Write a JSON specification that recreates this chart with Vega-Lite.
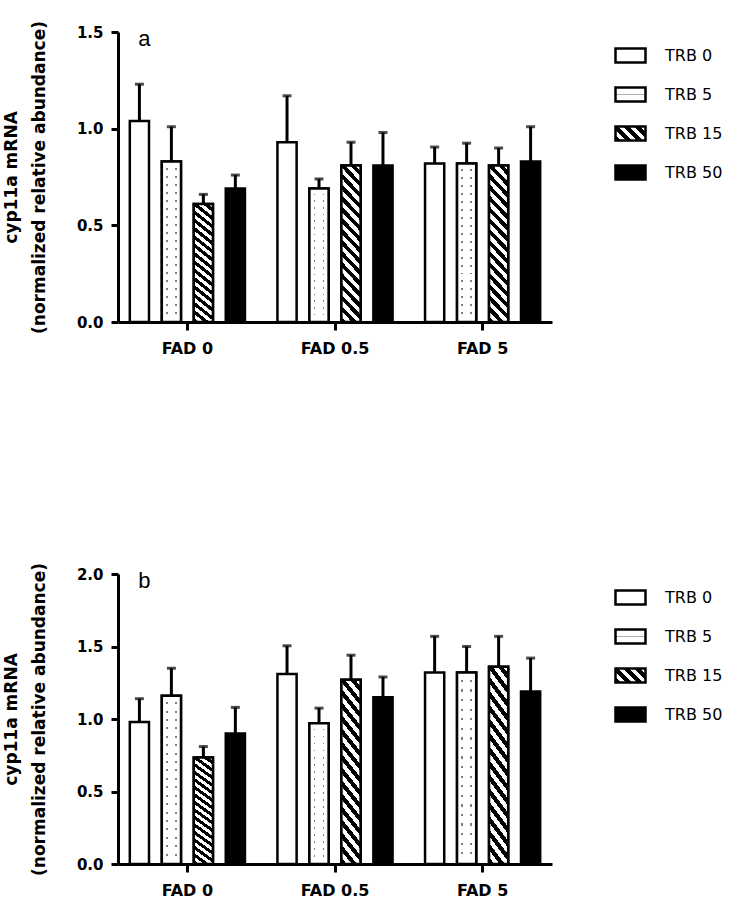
{
  "$schema": "https://vega.github.io/schema/vega-lite/v6.json",
  "background": "white",
  "padding": {"top": 20, "left": 2, "right": 0, "bottom": 0},
  "datasets": {
    "a": [
      {"FAD": "FAD 0", "TRB": "TRB 0", "mean": 1.04, "upper": 1.23},
      {"FAD": "FAD 0", "TRB": "TRB 5", "mean": 0.83, "upper": 1.01},
      {"FAD": "FAD 0", "TRB": "TRB 15", "mean": 0.61, "upper": 0.66},
      {"FAD": "FAD 0", "TRB": "TRB 50", "mean": 0.69, "upper": 0.76},
      {"FAD": "FAD 0.5", "TRB": "TRB 0", "mean": 0.93, "upper": 1.17},
      {"FAD": "FAD 0.5", "TRB": "TRB 5", "mean": 0.69, "upper": 0.74},
      {"FAD": "FAD 0.5", "TRB": "TRB 15", "mean": 0.81, "upper": 0.93},
      {"FAD": "FAD 0.5", "TRB": "TRB 50", "mean": 0.81, "upper": 0.98},
      {"FAD": "FAD 5", "TRB": "TRB 0", "mean": 0.82, "upper": 0.905},
      {"FAD": "FAD 5", "TRB": "TRB 5", "mean": 0.82, "upper": 0.925},
      {"FAD": "FAD 5", "TRB": "TRB 15", "mean": 0.81, "upper": 0.9},
      {"FAD": "FAD 5", "TRB": "TRB 50", "mean": 0.83, "upper": 1.01}
    ],
    "b": [
      {"FAD": "FAD 0", "TRB": "TRB 0", "mean": 0.98, "upper": 1.14},
      {"FAD": "FAD 0", "TRB": "TRB 5", "mean": 1.16, "upper": 1.35},
      {"FAD": "FAD 0", "TRB": "TRB 15", "mean": 0.735, "upper": 0.81},
      {"FAD": "FAD 0", "TRB": "TRB 50", "mean": 0.9, "upper": 1.08},
      {"FAD": "FAD 0.5", "TRB": "TRB 0", "mean": 1.31, "upper": 1.505},
      {"FAD": "FAD 0.5", "TRB": "TRB 5", "mean": 0.97, "upper": 1.075},
      {"FAD": "FAD 0.5", "TRB": "TRB 15", "mean": 1.27, "upper": 1.44},
      {"FAD": "FAD 0.5", "TRB": "TRB 50", "mean": 1.15, "upper": 1.29},
      {"FAD": "FAD 5", "TRB": "TRB 0", "mean": 1.32, "upper": 1.57},
      {"FAD": "FAD 5", "TRB": "TRB 5", "mean": 1.32, "upper": 1.5},
      {"FAD": "FAD 5", "TRB": "TRB 15", "mean": 1.36, "upper": 1.57},
      {"FAD": "FAD 5", "TRB": "TRB 50", "mean": 1.19, "upper": 1.42}
    ]
  },
  "spacing": 206,
  "resolve": {"scale": {"fill": "independent", "y": "independent"}},
  "vconcat": [
    {
      "width": 434,
      "height": 290,
      "data": {"name": "a"},
      "encoding": {
        "x": {"field": "FAD", "type": "nominal", "scale": {"domain": ["FAD 0", "FAD 0.5", "FAD 5"], "paddingInner": 0.22, "paddingOuter": 0.08}, "axis": {"title": null, "labelAngle": 0, "tickSize": 8, "labelPadding": 10}},
        "xOffset": {"field": "TRB", "type": "nominal", "scale": {"domain": ["TRB 0", "TRB 5", "TRB 15", "TRB 50"], "paddingInner": 0.4, "paddingOuter": 0}}
      },
      "layer": [
        {
          "mark": {"type": "bar", "stroke": "black", "strokeWidth": 2.5},
          "encoding": {
            "y": {"field": "mean", "type": "quantitative", "scale": {"domain": [0, 1.5], "nice": false}, "axis": {"values": [0, 0.5, 1, 1.5], "format": ".1f", "title": ["cyp11a mRNA", "(normalized relative abundance)"], "titleLineHeight": 28, "titlePadding": 28, "tickSize": 7, "labelPadding": 8}},
            "fill": {"field": "TRB", "type": "nominal",
              "scale": {"domain": ["TRB 0", "TRB 5", "TRB 15", "TRB 50"], "range": [
                "white",
                {"expr": "{gradient: 'linear', x1: 0, y1: 0, x2: 0, y2: 1, stops: [{offset: 0, color: 'white'}, {offset: 0.44, color: 'white'}, {offset: 0.44, color: '#b0b0b0'}, {offset: 0.54, color: '#b0b0b0'}, {offset: 0.54, color: 'white'}, {offset: 1, color: 'white'}]}"},
                {"expr": "{gradient: 'linear', x1: 0, y1: 1, x2: 1.2, y2: 0.44, stops: [{offset: 0, color: 'black'}, {offset: 0.125, color: 'black'}, {offset: 0.125, color: 'white'}, {offset: 0.25, color: 'white'}, {offset: 0.25, color: 'black'}, {offset: 0.375, color: 'black'}, {offset: 0.375, color: 'white'}, {offset: 0.5, color: 'white'}, {offset: 0.5, color: 'black'}, {offset: 0.625, color: 'black'}, {offset: 0.625, color: 'white'}, {offset: 0.75, color: 'white'}, {offset: 0.75, color: 'black'}, {offset: 0.875, color: 'black'}, {offset: 0.875, color: 'white'}, {offset: 1, color: 'white'}]}"},
                "black"
              ]},
              "legend": {"title": null, "orient": "right", "offset": 55, "padding": 7, "symbolStrokeColor": "black", "symbolStrokeWidth": 2.5}
            }
          }
        },
        {
          "transform": [{"filter": "datum.TRB === 'TRB 15'"}],
          "mark": {"type": "bar", "stroke": "black", "strokeWidth": 2.5, "fill": {"gradient": "linear", "x1": 0, "y1": 1, "x2": 0.144, "y2": -0.111, "stops": [
            {"offset": 0, "color": "black"}, {"offset": 0.03125, "color": "black"}, {"offset": 0.03125, "color": "white"}, {"offset": 0.0625, "color": "white"},
            {"offset": 0.0625, "color": "black"}, {"offset": 0.09375, "color": "black"}, {"offset": 0.09375, "color": "white"}, {"offset": 0.125, "color": "white"},
            {"offset": 0.125, "color": "black"}, {"offset": 0.15625, "color": "black"}, {"offset": 0.15625, "color": "white"}, {"offset": 0.1875, "color": "white"},
            {"offset": 0.1875, "color": "black"}, {"offset": 0.21875, "color": "black"}, {"offset": 0.21875, "color": "white"}, {"offset": 0.25, "color": "white"},
            {"offset": 0.25, "color": "black"}, {"offset": 0.28125, "color": "black"}, {"offset": 0.28125, "color": "white"}, {"offset": 0.3125, "color": "white"},
            {"offset": 0.3125, "color": "black"}, {"offset": 0.34375, "color": "black"}, {"offset": 0.34375, "color": "white"}, {"offset": 0.375, "color": "white"},
            {"offset": 0.375, "color": "black"}, {"offset": 0.40625, "color": "black"}, {"offset": 0.40625, "color": "white"}, {"offset": 0.4375, "color": "white"},
            {"offset": 0.4375, "color": "black"}, {"offset": 0.46875, "color": "black"}, {"offset": 0.46875, "color": "white"}, {"offset": 0.5, "color": "white"},
            {"offset": 0.5, "color": "black"}, {"offset": 0.53125, "color": "black"}, {"offset": 0.53125, "color": "white"}, {"offset": 0.5625, "color": "white"},
            {"offset": 0.5625, "color": "black"}, {"offset": 0.59375, "color": "black"}, {"offset": 0.59375, "color": "white"}, {"offset": 0.625, "color": "white"},
            {"offset": 0.625, "color": "black"}, {"offset": 0.65625, "color": "black"}, {"offset": 0.65625, "color": "white"}, {"offset": 0.6875, "color": "white"},
            {"offset": 0.6875, "color": "black"}, {"offset": 0.71875, "color": "black"}, {"offset": 0.71875, "color": "white"}, {"offset": 0.75, "color": "white"},
            {"offset": 0.75, "color": "black"}, {"offset": 0.78125, "color": "black"}, {"offset": 0.78125, "color": "white"}, {"offset": 0.8125, "color": "white"},
            {"offset": 0.8125, "color": "black"}, {"offset": 0.84375, "color": "black"}, {"offset": 0.84375, "color": "white"}, {"offset": 0.875, "color": "white"},
            {"offset": 0.875, "color": "black"}, {"offset": 0.90625, "color": "black"}, {"offset": 0.90625, "color": "white"}, {"offset": 0.9375, "color": "white"},
            {"offset": 0.9375, "color": "black"}, {"offset": 0.96875, "color": "black"}, {"offset": 0.96875, "color": "white"}, {"offset": 1, "color": "white"}
          ]}},
          "encoding": {"y": {"field": "mean", "type": "quantitative"}}
        },
        {
          "transform": [{"filter": "datum.TRB === 'TRB 5'"}],
          "mark": {"type": "bar", "strokeWidth": 0, "fill": {"gradient": "linear", "x1": 0, "y1": 0, "x2": 0, "y2": 1, "stops": [
            {"offset": 0, "color": "white"},
            {"offset": 0.038, "color": "white"}, {"offset": 0.038, "color": "#808080"}, {"offset": 0.05, "color": "#808080"}, {"offset": 0.05, "color": "white"},
            {"offset": 0.088, "color": "white"}, {"offset": 0.088, "color": "#808080"}, {"offset": 0.1, "color": "#808080"}, {"offset": 0.1, "color": "white"},
            {"offset": 0.138, "color": "white"}, {"offset": 0.138, "color": "#808080"}, {"offset": 0.15, "color": "#808080"}, {"offset": 0.15, "color": "white"},
            {"offset": 0.188, "color": "white"}, {"offset": 0.188, "color": "#808080"}, {"offset": 0.2, "color": "#808080"}, {"offset": 0.2, "color": "white"},
            {"offset": 0.238, "color": "white"}, {"offset": 0.238, "color": "#808080"}, {"offset": 0.25, "color": "#808080"}, {"offset": 0.25, "color": "white"},
            {"offset": 0.288, "color": "white"}, {"offset": 0.288, "color": "#808080"}, {"offset": 0.3, "color": "#808080"}, {"offset": 0.3, "color": "white"},
            {"offset": 0.338, "color": "white"}, {"offset": 0.338, "color": "#808080"}, {"offset": 0.35, "color": "#808080"}, {"offset": 0.35, "color": "white"},
            {"offset": 0.388, "color": "white"}, {"offset": 0.388, "color": "#808080"}, {"offset": 0.4, "color": "#808080"}, {"offset": 0.4, "color": "white"},
            {"offset": 0.438, "color": "white"}, {"offset": 0.438, "color": "#808080"}, {"offset": 0.45, "color": "#808080"}, {"offset": 0.45, "color": "white"},
            {"offset": 0.488, "color": "white"}, {"offset": 0.488, "color": "#808080"}, {"offset": 0.5, "color": "#808080"}, {"offset": 0.5, "color": "white"},
            {"offset": 0.538, "color": "white"}, {"offset": 0.538, "color": "#808080"}, {"offset": 0.55, "color": "#808080"}, {"offset": 0.55, "color": "white"},
            {"offset": 0.588, "color": "white"}, {"offset": 0.588, "color": "#808080"}, {"offset": 0.6, "color": "#808080"}, {"offset": 0.6, "color": "white"},
            {"offset": 0.638, "color": "white"}, {"offset": 0.638, "color": "#808080"}, {"offset": 0.65, "color": "#808080"}, {"offset": 0.65, "color": "white"},
            {"offset": 0.688, "color": "white"}, {"offset": 0.688, "color": "#808080"}, {"offset": 0.7, "color": "#808080"}, {"offset": 0.7, "color": "white"},
            {"offset": 0.738, "color": "white"}, {"offset": 0.738, "color": "#808080"}, {"offset": 0.75, "color": "#808080"}, {"offset": 0.75, "color": "white"},
            {"offset": 0.788, "color": "white"}, {"offset": 0.788, "color": "#808080"}, {"offset": 0.8, "color": "#808080"}, {"offset": 0.8, "color": "white"},
            {"offset": 0.838, "color": "white"}, {"offset": 0.838, "color": "#808080"}, {"offset": 0.85, "color": "#808080"}, {"offset": 0.85, "color": "white"},
            {"offset": 0.888, "color": "white"}, {"offset": 0.888, "color": "#808080"}, {"offset": 0.9, "color": "#808080"}, {"offset": 0.9, "color": "white"},
            {"offset": 0.938, "color": "white"}, {"offset": 0.938, "color": "#808080"}, {"offset": 0.95, "color": "#808080"}, {"offset": 0.95, "color": "white"},
            {"offset": 1, "color": "white"}
          ]}},
          "encoding": {"y": {"field": "mean", "type": "quantitative"}}
        },
        {
          "transform": [{"filter": "datum.TRB === 'TRB 5'"}],
          "mark": {"type": "bar", "stroke": "black", "strokeWidth": 2.5, "fill": {"gradient": "linear", "x1": 0, "y1": 0, "x2": 1, "y2": 0, "stops": [
            {"offset": 0, "color": "white"}, {"offset": 0.22, "color": "white"}, {"offset": 0.22, "color": "rgba(255,255,255,0)"}, {"offset": 0.3, "color": "rgba(255,255,255,0)"}, {"offset": 0.3, "color": "white"},
            {"offset": 0.7, "color": "white"}, {"offset": 0.7, "color": "rgba(255,255,255,0)"}, {"offset": 0.78, "color": "rgba(255,255,255,0)"}, {"offset": 0.78, "color": "white"}, {"offset": 1, "color": "white"}
          ]}},
          "encoding": {"y": {"field": "mean", "type": "quantitative"}}
        },
        {
          "mark": {"type": "rule", "strokeWidth": 3, "color": "black"},
          "encoding": {"y": {"field": "mean", "type": "quantitative"}, "y2": {"field": "upper"}}
        },
        {
          "mark": {"type": "tick", "thickness": 3, "size": 9, "color": "black"},
          "encoding": {"y": {"field": "upper", "type": "quantitative"}}
        },
        {
          "data": {"values": [{"label": "a"}]},
          "mark": {"type": "text", "font": "Liberation Sans", "fontSize": 22, "dx": 5, "baseline": "middle", "color": "black"},
          "encoding": {"x": {"datum": "FAD 0"}, "xOffset": {"datum": "TRB 0"}, "y": {"datum": 1.465}, "text": {"field": "label"}}
        }
      ]
    },
    {
      "width": 434,
      "height": 290,
      "data": {"name": "b"},
      "encoding": {
        "x": {"field": "FAD", "type": "nominal", "scale": {"domain": ["FAD 0", "FAD 0.5", "FAD 5"], "paddingInner": 0.22, "paddingOuter": 0.08}, "axis": {"title": null, "labelAngle": 0, "tickSize": 8, "labelPadding": 10}},
        "xOffset": {"field": "TRB", "type": "nominal", "scale": {"domain": ["TRB 0", "TRB 5", "TRB 15", "TRB 50"], "paddingInner": 0.4, "paddingOuter": 0}}
      },
      "layer": [
        {
          "mark": {"type": "bar", "stroke": "black", "strokeWidth": 2.5},
          "encoding": {
            "y": {"field": "mean", "type": "quantitative", "scale": {"domain": [0, 2], "nice": false}, "axis": {"values": [0, 0.5, 1, 1.5, 2], "format": ".1f", "title": ["cyp11a mRNA", "(normalized relative abundance)"], "titleLineHeight": 28, "titlePadding": 28, "tickSize": 7, "labelPadding": 8}},
            "fill": {"field": "TRB", "type": "nominal",
              "scale": {"domain": ["TRB 0", "TRB 5", "TRB 15", "TRB 50"], "range": [
                "white",
                {"expr": "{gradient: 'linear', x1: 0, y1: 0, x2: 0, y2: 1, stops: [{offset: 0, color: 'white'}, {offset: 0.44, color: 'white'}, {offset: 0.44, color: '#b0b0b0'}, {offset: 0.54, color: '#b0b0b0'}, {offset: 0.54, color: 'white'}, {offset: 1, color: 'white'}]}"},
                {"expr": "{gradient: 'linear', x1: 0, y1: 1, x2: 1.2, y2: 0.44, stops: [{offset: 0, color: 'black'}, {offset: 0.125, color: 'black'}, {offset: 0.125, color: 'white'}, {offset: 0.25, color: 'white'}, {offset: 0.25, color: 'black'}, {offset: 0.375, color: 'black'}, {offset: 0.375, color: 'white'}, {offset: 0.5, color: 'white'}, {offset: 0.5, color: 'black'}, {offset: 0.625, color: 'black'}, {offset: 0.625, color: 'white'}, {offset: 0.75, color: 'white'}, {offset: 0.75, color: 'black'}, {offset: 0.875, color: 'black'}, {offset: 0.875, color: 'white'}, {offset: 1, color: 'white'}]}"},
                "black"
              ]},
              "legend": {"title": null, "orient": "right", "offset": 55, "padding": 7, "symbolStrokeColor": "black", "symbolStrokeWidth": 2.5}
            }
          }
        },
        {
          "transform": [{"filter": "datum.TRB === 'TRB 15'"}],
          "mark": {"type": "bar", "stroke": "black", "strokeWidth": 2.5, "fill": {"gradient": "linear", "x1": 0, "y1": 1, "x2": 0.144, "y2": -0.111, "stops": [
            {"offset": 0, "color": "black"}, {"offset": 0.03125, "color": "black"}, {"offset": 0.03125, "color": "white"}, {"offset": 0.0625, "color": "white"},
            {"offset": 0.0625, "color": "black"}, {"offset": 0.09375, "color": "black"}, {"offset": 0.09375, "color": "white"}, {"offset": 0.125, "color": "white"},
            {"offset": 0.125, "color": "black"}, {"offset": 0.15625, "color": "black"}, {"offset": 0.15625, "color": "white"}, {"offset": 0.1875, "color": "white"},
            {"offset": 0.1875, "color": "black"}, {"offset": 0.21875, "color": "black"}, {"offset": 0.21875, "color": "white"}, {"offset": 0.25, "color": "white"},
            {"offset": 0.25, "color": "black"}, {"offset": 0.28125, "color": "black"}, {"offset": 0.28125, "color": "white"}, {"offset": 0.3125, "color": "white"},
            {"offset": 0.3125, "color": "black"}, {"offset": 0.34375, "color": "black"}, {"offset": 0.34375, "color": "white"}, {"offset": 0.375, "color": "white"},
            {"offset": 0.375, "color": "black"}, {"offset": 0.40625, "color": "black"}, {"offset": 0.40625, "color": "white"}, {"offset": 0.4375, "color": "white"},
            {"offset": 0.4375, "color": "black"}, {"offset": 0.46875, "color": "black"}, {"offset": 0.46875, "color": "white"}, {"offset": 0.5, "color": "white"},
            {"offset": 0.5, "color": "black"}, {"offset": 0.53125, "color": "black"}, {"offset": 0.53125, "color": "white"}, {"offset": 0.5625, "color": "white"},
            {"offset": 0.5625, "color": "black"}, {"offset": 0.59375, "color": "black"}, {"offset": 0.59375, "color": "white"}, {"offset": 0.625, "color": "white"},
            {"offset": 0.625, "color": "black"}, {"offset": 0.65625, "color": "black"}, {"offset": 0.65625, "color": "white"}, {"offset": 0.6875, "color": "white"},
            {"offset": 0.6875, "color": "black"}, {"offset": 0.71875, "color": "black"}, {"offset": 0.71875, "color": "white"}, {"offset": 0.75, "color": "white"},
            {"offset": 0.75, "color": "black"}, {"offset": 0.78125, "color": "black"}, {"offset": 0.78125, "color": "white"}, {"offset": 0.8125, "color": "white"},
            {"offset": 0.8125, "color": "black"}, {"offset": 0.84375, "color": "black"}, {"offset": 0.84375, "color": "white"}, {"offset": 0.875, "color": "white"},
            {"offset": 0.875, "color": "black"}, {"offset": 0.90625, "color": "black"}, {"offset": 0.90625, "color": "white"}, {"offset": 0.9375, "color": "white"},
            {"offset": 0.9375, "color": "black"}, {"offset": 0.96875, "color": "black"}, {"offset": 0.96875, "color": "white"}, {"offset": 1, "color": "white"}
          ]}},
          "encoding": {"y": {"field": "mean", "type": "quantitative"}}
        },
        {
          "transform": [{"filter": "datum.TRB === 'TRB 5'"}],
          "mark": {"type": "bar", "strokeWidth": 0, "fill": {"gradient": "linear", "x1": 0, "y1": 0, "x2": 0, "y2": 1, "stops": [
            {"offset": 0, "color": "white"},
            {"offset": 0.038, "color": "white"}, {"offset": 0.038, "color": "#808080"}, {"offset": 0.05, "color": "#808080"}, {"offset": 0.05, "color": "white"},
            {"offset": 0.088, "color": "white"}, {"offset": 0.088, "color": "#808080"}, {"offset": 0.1, "color": "#808080"}, {"offset": 0.1, "color": "white"},
            {"offset": 0.138, "color": "white"}, {"offset": 0.138, "color": "#808080"}, {"offset": 0.15, "color": "#808080"}, {"offset": 0.15, "color": "white"},
            {"offset": 0.188, "color": "white"}, {"offset": 0.188, "color": "#808080"}, {"offset": 0.2, "color": "#808080"}, {"offset": 0.2, "color": "white"},
            {"offset": 0.238, "color": "white"}, {"offset": 0.238, "color": "#808080"}, {"offset": 0.25, "color": "#808080"}, {"offset": 0.25, "color": "white"},
            {"offset": 0.288, "color": "white"}, {"offset": 0.288, "color": "#808080"}, {"offset": 0.3, "color": "#808080"}, {"offset": 0.3, "color": "white"},
            {"offset": 0.338, "color": "white"}, {"offset": 0.338, "color": "#808080"}, {"offset": 0.35, "color": "#808080"}, {"offset": 0.35, "color": "white"},
            {"offset": 0.388, "color": "white"}, {"offset": 0.388, "color": "#808080"}, {"offset": 0.4, "color": "#808080"}, {"offset": 0.4, "color": "white"},
            {"offset": 0.438, "color": "white"}, {"offset": 0.438, "color": "#808080"}, {"offset": 0.45, "color": "#808080"}, {"offset": 0.45, "color": "white"},
            {"offset": 0.488, "color": "white"}, {"offset": 0.488, "color": "#808080"}, {"offset": 0.5, "color": "#808080"}, {"offset": 0.5, "color": "white"},
            {"offset": 0.538, "color": "white"}, {"offset": 0.538, "color": "#808080"}, {"offset": 0.55, "color": "#808080"}, {"offset": 0.55, "color": "white"},
            {"offset": 0.588, "color": "white"}, {"offset": 0.588, "color": "#808080"}, {"offset": 0.6, "color": "#808080"}, {"offset": 0.6, "color": "white"},
            {"offset": 0.638, "color": "white"}, {"offset": 0.638, "color": "#808080"}, {"offset": 0.65, "color": "#808080"}, {"offset": 0.65, "color": "white"},
            {"offset": 0.688, "color": "white"}, {"offset": 0.688, "color": "#808080"}, {"offset": 0.7, "color": "#808080"}, {"offset": 0.7, "color": "white"},
            {"offset": 0.738, "color": "white"}, {"offset": 0.738, "color": "#808080"}, {"offset": 0.75, "color": "#808080"}, {"offset": 0.75, "color": "white"},
            {"offset": 0.788, "color": "white"}, {"offset": 0.788, "color": "#808080"}, {"offset": 0.8, "color": "#808080"}, {"offset": 0.8, "color": "white"},
            {"offset": 0.838, "color": "white"}, {"offset": 0.838, "color": "#808080"}, {"offset": 0.85, "color": "#808080"}, {"offset": 0.85, "color": "white"},
            {"offset": 0.888, "color": "white"}, {"offset": 0.888, "color": "#808080"}, {"offset": 0.9, "color": "#808080"}, {"offset": 0.9, "color": "white"},
            {"offset": 0.938, "color": "white"}, {"offset": 0.938, "color": "#808080"}, {"offset": 0.95, "color": "#808080"}, {"offset": 0.95, "color": "white"},
            {"offset": 1, "color": "white"}
          ]}},
          "encoding": {"y": {"field": "mean", "type": "quantitative"}}
        },
        {
          "transform": [{"filter": "datum.TRB === 'TRB 5'"}],
          "mark": {"type": "bar", "stroke": "black", "strokeWidth": 2.5, "fill": {"gradient": "linear", "x1": 0, "y1": 0, "x2": 1, "y2": 0, "stops": [
            {"offset": 0, "color": "white"}, {"offset": 0.22, "color": "white"}, {"offset": 0.22, "color": "rgba(255,255,255,0)"}, {"offset": 0.3, "color": "rgba(255,255,255,0)"}, {"offset": 0.3, "color": "white"},
            {"offset": 0.7, "color": "white"}, {"offset": 0.7, "color": "rgba(255,255,255,0)"}, {"offset": 0.78, "color": "rgba(255,255,255,0)"}, {"offset": 0.78, "color": "white"}, {"offset": 1, "color": "white"}
          ]}},
          "encoding": {"y": {"field": "mean", "type": "quantitative"}}
        },
        {
          "mark": {"type": "rule", "strokeWidth": 3, "color": "black"},
          "encoding": {"y": {"field": "mean", "type": "quantitative"}, "y2": {"field": "upper"}}
        },
        {
          "mark": {"type": "tick", "thickness": 3, "size": 9, "color": "black"},
          "encoding": {"y": {"field": "upper", "type": "quantitative"}}
        },
        {
          "data": {"values": [{"label": "b"}]},
          "mark": {"type": "text", "font": "Liberation Sans", "fontSize": 22, "dx": 5, "baseline": "middle", "color": "black"},
          "encoding": {"x": {"datum": "FAD 0"}, "xOffset": {"datum": "TRB 0"}, "y": {"datum": 1.95}, "text": {"field": "label"}}
        }
      ]
    }
  ],
  "config": {
    "view": {"stroke": null},
    "font": "DejaVu Sans",
    "axis": {"domainColor": "black", "domainWidth": 3, "tickColor": "black", "tickWidth": 3, "labelColor": "black", "labelFont": "DejaVu Sans", "labelFontWeight": "bold", "labelFontSize": 15, "titleColor": "black", "titleFont": "DejaVu Sans", "titleFontWeight": "bold", "titleFontSize": 17, "grid": false},
    "axisX": {"labelFontSize": 16},
    "legend": {"symbolType": "M-1,-0.47H1V0.47H-1Z", "symbolSize": 900, "symbolStrokeColor": "black", "symbolStrokeWidth": 2.5, "symbolOpacity": 1, "labelFont": "DejaVu Sans", "labelFontSize": 16, "labelColor": "black", "labelOffset": 18, "rowPadding": 10}
  }
}
